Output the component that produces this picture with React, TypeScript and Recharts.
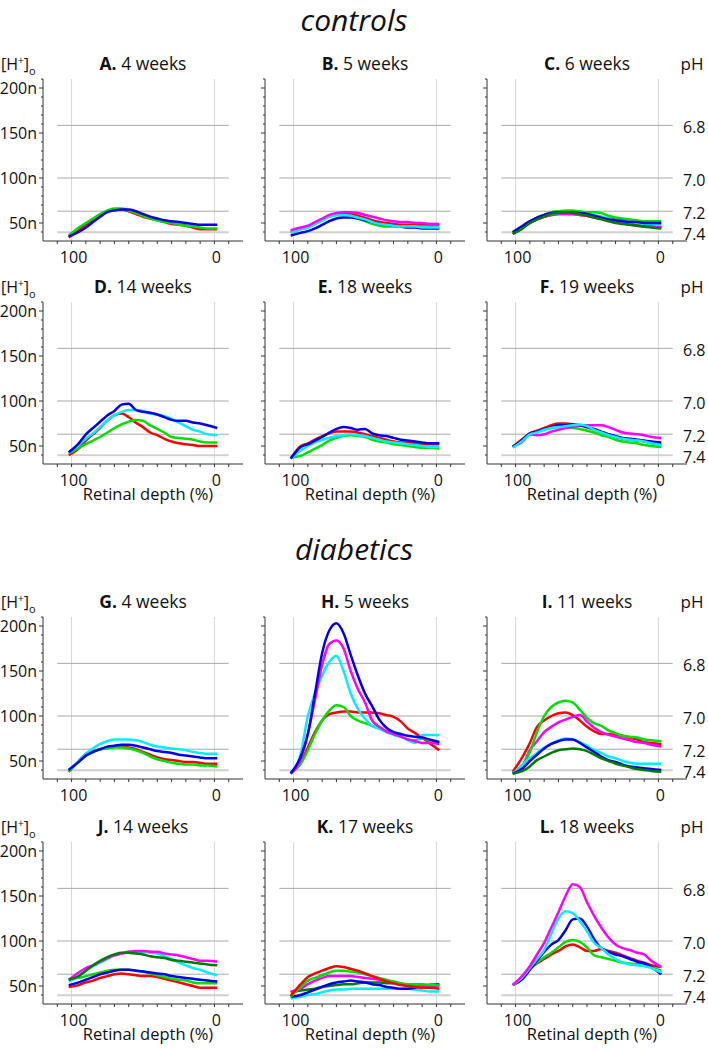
import React from 'react';
import { LineChart, Line, XAxis, YAxis, ReferenceLine } from 'recharts';

// retinal depth (%) at which each trace was read, vitreal side (100) to choroid (0)
const DEPTH = [102, 95, 90, 85, 80, 75, 70, 65, 60, 55, 50, 45, 40, 35, 30, 25, 20, 15, 10, 5, -2];
const DEPTH_TICKS = [110, 100, 90, 80, 70, 60, 50, 40, 30, 20, 10, 0, -10];
const DEPTH_LABELS = [100, 0];
const H_TICKS = [40, 50, 60, 70, 80, 90, 100, 110, 120, 130, 140, 150, 160, 170, 180, 190, 200, 210];
const PH_LINES = [6.8, 7.0, 7.2, 7.4];

// [H+]o in nM, one array per trace
const A = {
  red: [34, 42, 48, 54, 59, 63, 65, 65, 63, 60, 57, 55, 53, 51, 49, 48, 47, 45, 43, 43, 43],
  green: [36, 45, 50, 55, 60, 64, 66, 66, 64, 61, 58, 55, 53, 51, 50, 48, 47, 46, 45, 44, 44],
  blue: [35, 40, 45, 51, 57, 62, 64, 65, 65, 63, 60, 57, 55, 53, 52, 51, 50, 49, 48, 48, 48],
};
const B = {
  red: [40, 44, 46, 50, 54, 58, 60, 61, 60, 58, 56, 53, 51, 50, 49, 48, 48, 48, 48, 48, 48],
  green: [39, 43, 45, 49, 53, 57, 59, 59, 57, 55, 52, 49, 47, 46, 46, 46, 46, 46, 46, 46, 46],
  blue: [36, 39, 41, 44, 48, 52, 55, 56, 56, 55, 53, 51, 49, 48, 47, 46, 45, 45, 44, 44, 44],
  cyan: [39, 43, 45, 49, 53, 57, 59, 59, 58, 56, 54, 51, 49, 48, 47, 46, 46, 46, 45, 45, 45],
  magenta: [42, 45, 47, 51, 55, 59, 61, 62, 62, 61, 59, 57, 55, 53, 52, 51, 51, 50, 50, 49, 49],
};
const C = {
  red: [38, 45, 50, 54, 57, 59, 60, 60, 60, 59, 58, 57, 56, 55, 54, 53, 51, 49, 47, 46, 45],
  magenta: [38, 45, 50, 54, 57, 59, 60, 60, 60, 59, 58, 56, 55, 53, 51, 50, 48, 47, 46, 46, 45],
  cyan: [39, 46, 51, 55, 58, 60, 61, 62, 62, 61, 60, 59, 57, 55, 53, 52, 51, 50, 49, 49, 48],
  green: [39, 46, 51, 56, 59, 62, 63, 64, 64, 63, 62, 62, 61, 58, 56, 55, 54, 53, 52, 52, 52],
  blue: [40, 47, 52, 56, 59, 61, 62, 62, 62, 61, 60, 58, 56, 54, 53, 52, 51, 51, 50, 50, 50],
  dark: [38, 44, 50, 54, 57, 60, 61, 62, 61, 60, 58, 56, 54, 52, 50, 49, 48, 47, 46, 45, 44],
};
const D = {
  red: [40, 47, 56, 63, 70, 78, 84, 86, 82, 76, 71, 65, 62, 58, 55, 53, 52, 51, 50, 50, 50],
  green: [42, 48, 52, 56, 60, 65, 70, 74, 77, 79, 78, 73, 69, 65, 60, 59, 58, 57, 55, 54, 54],
  cyan: [43, 51, 58, 64, 71, 78, 84, 88, 90, 90, 89, 86, 85, 83, 80, 76, 72, 68, 66, 63, 62],
  blue: [43, 53, 63, 70, 77, 84, 89, 96, 97, 90, 88, 87, 85, 82, 79, 78, 78, 76, 75, 73, 70],
};
const E = {
  red: [36, 50, 53, 57, 61, 64, 66, 66, 66, 65, 63, 61, 59, 57, 55, 54, 54, 53, 52, 52, 52],
  green: [37, 39, 43, 47, 51, 56, 59, 61, 62, 61, 60, 57, 55, 54, 52, 51, 50, 49, 48, 48, 47],
  cyan: [36, 45, 50, 54, 57, 59, 61, 62, 63, 62, 61, 59, 57, 55, 54, 53, 52, 51, 50, 49, 49],
  blue: [36, 49, 52, 56, 60, 65, 69, 71, 70, 68, 69, 64, 62, 61, 59, 57, 56, 55, 54, 53, 53],
};
const F = {
  red: [49, 58, 64, 67, 70, 73, 75, 75, 74, 73, 71, 68, 65, 62, 60, 58, 57, 56, 55, 53, 52],
  green: [49, 57, 63, 66, 68, 70, 71, 71, 70, 69, 67, 65, 62, 60, 57, 55, 54, 53, 51, 50, 49],
  magenta: [49, 55, 63, 62, 63, 66, 68, 70, 71, 73, 73, 73, 73, 71, 68, 65, 64, 63, 62, 60, 59],
  blue: [49, 57, 64, 66, 69, 71, 73, 73, 74, 73, 71, 69, 66, 63, 61, 59, 58, 57, 56, 55, 54],
  cyan: [48, 56, 63, 65, 68, 70, 71, 72, 73, 74, 72, 68, 65, 62, 60, 58, 57, 56, 55, 53, 51],
};
const G = {
  red: [38, 50, 58, 61, 63, 65, 66, 66, 65, 63, 60, 57, 54, 52, 51, 50, 49, 49, 48, 47, 47],
  green: [39, 49, 56, 60, 63, 64, 65, 65, 64, 62, 59, 55, 52, 50, 48, 47, 46, 46, 45, 45, 44],
  cyan: [40, 50, 58, 64, 69, 72, 74, 74, 74, 73, 71, 68, 66, 65, 64, 63, 62, 60, 59, 58, 58],
  blue: [40, 49, 56, 60, 63, 66, 67, 68, 68, 67, 65, 63, 61, 60, 59, 57, 56, 55, 54, 53, 53],
};
const H = {
  red: [37, 48, 65, 82, 95, 102, 104, 105, 105, 104, 104, 104, 103, 101, 99, 94, 86, 81, 76, 70, 62],
  green: [37, 47, 62, 80, 95, 106, 112, 110, 100, 95, 92, 89, 86, 83, 80, 78, 74, 73, 75, 73, 70],
  cyan: [36, 58, 100, 125, 145, 160, 167, 150, 125, 108, 97, 89, 86, 82, 79, 77, 73, 70, 79, 79, 79],
  magenta: [36, 52, 80, 118, 157, 180, 184, 175, 150, 130, 115, 95, 88, 83, 80, 77, 74, 72, 70, 70, 69],
  blue: [36, 55, 80, 125, 170, 195, 203, 192, 168, 145, 125, 111, 96, 87, 82, 80, 78, 77, 76, 74, 71],
};
const I = {
  red: [38, 55, 70, 88, 95, 100, 103, 104, 101, 95, 88, 83, 80, 80, 79, 78, 76, 74, 71, 70, 69],
  magenta: [36, 45, 62, 72, 82, 88, 93, 96, 99, 101, 94, 87, 82, 79, 77, 75, 73, 71, 70, 68, 66],
  green: [36, 45, 60, 82, 100, 110, 115, 117, 115, 107, 98, 92, 89, 84, 81, 78, 77, 76, 74, 73, 72],
  cyan: [36, 46, 53, 59, 65, 69, 73, 75, 74, 71, 67, 62, 59, 55, 53, 50, 48, 47, 47, 47, 47],
  blue: [36, 42, 50, 57, 64, 69, 72, 74, 74, 70, 65, 60, 55, 51, 49, 46, 44, 43, 42, 41, 40],
  dark: [36, 39, 44, 51, 55, 59, 62, 63, 64, 63, 61, 57, 53, 50, 47, 45, 43, 41, 40, 39, 38],
};
const J = {
  red: [49, 51, 54, 56, 59, 61, 63, 64, 63, 62, 61, 61, 60, 58, 56, 54, 52, 50, 48, 48, 48],
  green: [57, 59, 61, 63, 65, 67, 68, 68, 68, 67, 66, 64, 62, 60, 58, 57, 56, 54, 53, 53, 53],
  blue: [51, 54, 57, 60, 63, 65, 67, 68, 68, 67, 66, 65, 64, 63, 61, 60, 59, 58, 57, 56, 55],
  cyan: [55, 61, 67, 72, 76, 80, 84, 86, 88, 88, 88, 87, 86, 83, 80, 76, 73, 70, 68, 65, 62],
  magenta: [57, 65, 70, 73, 77, 81, 84, 86, 88, 89, 89, 88, 88, 86, 85, 84, 82, 80, 78, 78, 77],
  dark: [57, 61, 67, 73, 78, 82, 85, 87, 87, 86, 85, 83, 82, 81, 79, 78, 77, 76, 75, 74, 73],
};
const K = {
  cyan: [36, 38, 40, 41, 43, 45, 46, 46, 47, 47, 47, 47, 47, 47, 47, 47, 47, 46, 45, 44, 44],
  dark: [43, 45, 46, 47, 49, 50, 51, 52, 52, 53, 54, 54, 54, 53, 53, 52, 52, 51, 51, 51, 51],
  blue: [38, 40, 43, 46, 49, 52, 54, 55, 56, 55, 54, 52, 51, 49, 48, 47, 47, 48, 50, 51, 52],
  magenta: [44, 47, 52, 56, 59, 61, 61, 61, 61, 60, 59, 58, 57, 56, 54, 53, 51, 50, 50, 50, 50],
  green: [38, 49, 56, 59, 62, 65, 67, 67, 66, 65, 63, 61, 59, 57, 55, 53, 52, 52, 52, 51, 51],
  red: [39, 52, 60, 64, 67, 70, 72, 71, 69, 67, 64, 61, 58, 55, 53, 51, 50, 49, 48, 48, 47],
};
const L = {
  red: [51, 60, 69, 75, 80, 85, 89, 94, 96, 93, 89, 89, 91, 89, 87, 84, 81, 78, 76, 73, 71],
  green: [51, 60, 69, 76, 82, 87, 93, 99, 101, 99, 93, 84, 82, 80, 78, 76, 75, 74, 73, 71, 67],
  blue: [51, 58, 68, 78, 88, 96, 101, 112, 124, 125, 116, 102, 92, 88, 85, 83, 80, 77, 75, 71, 63],
  cyan: [51, 60, 70, 80, 90, 108, 125, 133, 131, 122, 111, 98, 92, 85, 80, 76, 74, 73, 72, 70, 65],
  magenta: [51, 62, 72, 85, 98, 115, 132, 150, 163, 160, 143, 128, 115, 104, 96, 92, 90, 87, 85, 78, 71],
};

const PANELS = [
  { letter: 'A.', title: '4 weeks', series: A },
  { letter: 'B.', title: '5 weeks', series: B },
  { letter: 'C.', title: '6 weeks', series: C },
  { letter: 'D.', title: '14 weeks', series: D },
  { letter: 'E.', title: '18 weeks', series: E },
  { letter: 'F.', title: '19 weeks', series: F },
  { letter: 'G.', title: '4 weeks', series: G },
  { letter: 'H.', title: '5 weeks', series: H },
  { letter: 'I.', title: '11 weeks', series: I },
  { letter: 'J.', title: '14 weeks', series: J },
  { letter: 'K.', title: '17 weeks', series: K },
  { letter: 'L.', title: '18 weeks', series: L },
];

const COLORS: Record<string, string> = {
  red: '#ff0000',
  green: '#00e000',
  blue: '#0000ee',
  cyan: '#00eeff',
  magenta: '#ff00ff',
  dark: '#007a00',
};

const FONT = '"Open Sans", "Noto Sans", sans-serif';
const COL_X = [43, 265, 487];
const ROW_TOP = [79, 302, 617, 842];
const PLOT_H = 162;
const AXIS = '#333';

const XTick = (props: any) => {
  const { x, payload } = props;
  const show = DEPTH_LABELS.includes(payload.value);
  return (
    <g>
      <line x1={x} x2={x} y1={5 + PLOT_H} y2={5 + PLOT_H + 3} stroke={AXIS} />
      {show && (
        <text x={x + 2} y={5 + PLOT_H + 16} textAnchor="middle" dominantBaseline="central" fontSize={16} fill="#111" fontFamily={FONT}>
          {payload.value}
        </text>
      )}
    </g>
  );
};

const renderYTick = (props: any, showLabel: boolean) => {
  const { y, payload } = props;
  const major = payload.value % 50 === 0;
  return (
    <g>
      <line x1={45 - (major ? 4 : 2)} x2={45} y1={y} y2={y} stroke={AXIS} />
      {showLabel && major && (
        <text x={39} y={y} textAnchor="end" dominantBaseline="central" fontSize={16} fill="#111" fontFamily={FONT}>
          {payload.value}n
        </text>
      )}
    </g>
  );
};

function Panel({ p, row, col }: { p: any; row: number; col: number }) {
  const keys = Object.keys(p.series);
  const data = DEPTH.map((d, i) => {
    const o: any = { depth: d };
    keys.forEach((k) => (o[k] = p.series[k][i]));
    return o;
  });
  return (
    <div style={{ position: 'absolute', left: COL_X[col] - 45, top: ROW_TOP[row] - 5 }}>
      <LineChart width={285} height={5 + PLOT_H + 33} data={data} margin={{ top: 5, right: 40, bottom: 0, left: 0 }}>
        <XAxis
          dataKey="depth"
          type="number"
          domain={[-20, 120]}
          reversed
          ticks={DEPTH_TICKS}
          interval={0}
          tick={<XTick />}
          tickLine={false}
          axisLine={{ stroke: AXIS }}
          height={33}
        />
        <YAxis
          type="number"
          domain={[30, 210]}
          ticks={H_TICKS}
          interval={0}
          tick={(tp: any) => renderYTick(tp, col === 0)}
          tickLine={false}
          axisLine={{ stroke: AXIS }}
          width={45}
        />
        <ReferenceLine x={100} stroke="#d6d6d6" />
        <ReferenceLine x={0} stroke="#d6d6d6" />
        {PH_LINES.map((ph) => {
          const h = Math.pow(10, 9 - ph);
          return (
            <ReferenceLine
              key={'g' + ph}
              segment={[{ x: 110, y: h }, { x: -10, y: h }]}
              stroke={ph === 7.4 ? '#d0d0d0' : '#a8a8a8'}
              strokeWidth={ph === 7.4 ? 2 : 1}
            />
          );
        })}
        {col === 2 &&
          PH_LINES.map((ph) => (
            <ReferenceLine
              key={'l' + ph}
              y={Math.pow(10, 9 - ph)}
              stroke="none"
              label={(lp: any) => (
                <text
                  x={241}
                  y={lp.viewBox.y + 2}
                  textAnchor="start"
                  dominantBaseline="central"
                  fontSize={16}
                  fill="#111"
                  fontFamily={FONT}
                >
                  {ph.toFixed(1)}
                </text>
              )}
            />
          ))}
        {keys.map((k) => (
          <Line
            key={k}
            dataKey={k}
            type="monotone"
            stroke={COLORS[k]}
            strokeWidth={2.5}
            dot={false}
            isAnimationActive={false}
          />
        ))}
      </LineChart>
    </div>
  );
}

const centered = (cx: number, cy: number, w: number, lh: number): React.CSSProperties => ({
  position: 'absolute',
  left: cx - w / 2,
  top: cy - lh / 2,
  width: w,
  lineHeight: lh + 'px',
  textAlign: 'center',
  whiteSpace: 'nowrap',
});

export default function App() {
  return (
    <div style={{ position: 'absolute', left: 0, top: 0, width: 708, height: 1050, background: '#fff', fontFamily: FONT, color: '#111', overflow: 'hidden' }}>
      <div style={{ ...centered(354, 20, 220, 34), fontSize: 30, fontStyle: 'italic' }}>controls</div>
      <div style={{ ...centered(354, 549, 220, 34), fontSize: 30, fontStyle: 'italic' }}>diabetics</div>
      {PANELS.map((p, i) => {
        const row = Math.floor(i / 3);
        const col = i % 3;
        return (
          <React.Fragment key={p.letter}>
            <div style={{ ...centered(COL_X[col] + 100, ROW_TOP[row] - 16, 180, 24), fontSize: 17.5 }}>
              <b>{p.letter}</b> {p.title}
            </div>
            {col === 0 && (
              <div style={{ position: 'absolute', left: 1, top: ROW_TOP[row] - 30, fontSize: 16, lineHeight: '22px' }}>
                [H<sup style={{ fontSize: 10 }}>+</sup>]<sub style={{ fontSize: 11, lineHeight: 0 }}>o</sub>
              </div>
            )}
            {col === 2 && <div style={{ ...centered(692, ROW_TOP[row] - 15, 40, 24), fontSize: 17 }}>pH</div>}
            {(row === 1 || row === 3) && (
              <div style={{ ...centered(COL_X[col] + 105, ROW_TOP[row] + PLOT_H + 30, 200, 20), fontSize: 16.5 }}>
                Retinal depth (%)
              </div>
            )}
            <Panel p={p} row={row} col={col} />
          </React.Fragment>
        );
      })}
    </div>
  );
}
